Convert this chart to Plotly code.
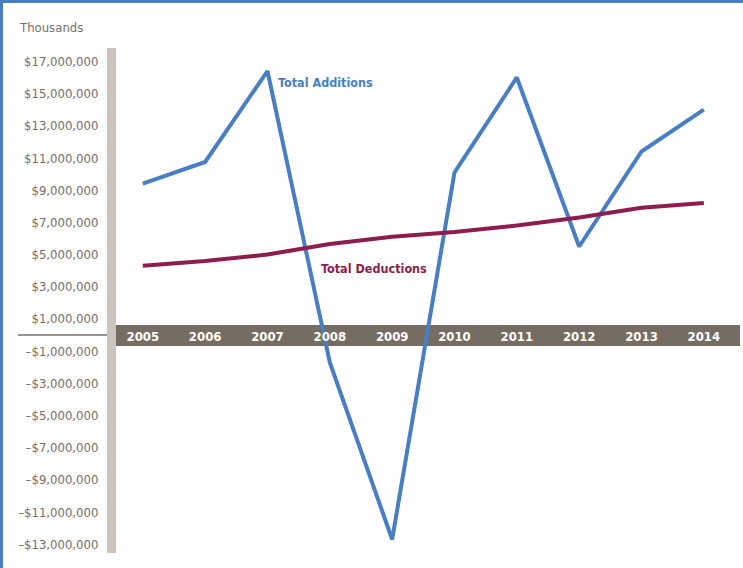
import plotly.graph_objects as go

years = ["2005", "2006", "2007", "2008", "2009", "2010", "2011", "2012", "2013", "2014"]
additions = [9400000, 10750000, 16400000, -1700000, -12700000, 10100000, 16000000, 5500000, 11400000, 14000000]
deductions = [4300000, 4600000, 5000000, 5650000, 6100000, 6400000, 6800000, 7300000, 7900000, 8200000]
ytick_vals = [17e6, 15e6, 13e6, 11e6, 9e6, 7e6, 5e6, 3e6, 1e6, -1e6, -3e6, -5e6, -7e6, -9e6, -11e6, -13e6]
ytick_text = ["$17,000,000", "$15,000,000", "$13,000,000", "$11,000,000", "$9,000,000", "$7,000,000",
              "$5,000,000", "$3,000,000", "$1,000,000", "\u2013$1,000,000", "\u2013$3,000,000",
              "\u2013$5,000,000", "\u2013$7,000,000", "\u2013$9,000,000", "\u2013$11,000,000", "\u2013$13,000,000"]

FONT = "Liberation Sans Narrow, DejaVu Sans Condensed, Arial Narrow, sans-serif"
BLUE = "#4A7EC2"
MAROON = "#8E1C4C"
GRAYTXT = "#776E66"
BAND = "#756D62"
BAR = "#CAC5BF"

W, H = 743, 568
L, R, T, B = 116, 3, 48, 15
pw = W - L - R
ph = H - T - B

fig = go.Figure()
fig.add_trace(go.Scatter(x=years, y=additions, mode="lines", line=dict(color=BLUE, width=4),
                         name="Total Additions", cliponaxis=False))
fig.add_trace(go.Scatter(x=years, y=deductions, mode="lines", line=dict(color=MAROON, width=4),
                         name="Total Deductions", cliponaxis=False))

shapes = [
    dict(type="rect", xref="paper", yref="y", x0=0, x1=1, y0=-680000, y1=620000,
         fillcolor=BAND, line=dict(width=0), layer="below"),
    dict(type="rect", xref="paper", yref="paper", x0=-9 / pw, x1=0, y0=0, y1=1,
         fillcolor=BAR, line=dict(width=0), layer="below"),
    dict(type="line", xref="paper", yref="y", x0=-98 / pw, x1=-9 / pw, y0=0, y1=0,
         line=dict(color=GRAYTXT, width=1.5)),
    dict(type="line", xref="paper", yref="paper", x0=-L / pw, x1=(W - L) / pw,
         y0=(H - B - 1.5) / ph, y1=(H - B - 1.5) / ph,
         line=dict(color=BLUE, width=3)),
    dict(type="line", xref="paper", yref="paper", x0=(-L + 1.5) / pw, x1=(-L + 1.5) / pw,
         y0=-B / ph, y1=(H - B) / ph,
         line=dict(color=BLUE, width=3)),
]

annotations = [
    dict(text="Thousands", xref="paper", yref="paper", x=-99 / pw, y=(H - B - 28) / ph,
         xanchor="left", yanchor="middle", showarrow=False,
         font=dict(family=FONT, size=13, color=GRAYTXT)),
    dict(text="<b>Total Additions</b>", x=2.13, y=15.7e6, xanchor="left", yanchor="middle",
         showarrow=False, font=dict(family=FONT, size=12.5, color=BLUE)),
    dict(text="<b>Total Deductions</b>", x=2.82, y=4.15e6, xanchor="left", yanchor="middle",
         showarrow=False, font=dict(family=FONT, size=12.5, color=MAROON)),
]

fig.update_layout(
    width=W, height=H,
    margin=dict(l=L, r=R, t=T, b=B),
    paper_bgcolor="white", plot_bgcolor="white",
    showlegend=False,
    shapes=shapes, annotations=annotations,
    xaxis=dict(type="category", range=[-0.43, 9.58], showgrid=False, zeroline=False, showline=False,
               ticks="", anchor="free", position=(H - B - 327) / ph,
               tickfont=dict(family=FONT, size=13, color="white", weight="bold")),
    yaxis=dict(range=[-13.54e6, 17.83e6], showgrid=False, zeroline=False, showline=False,
               tickvals=ytick_vals, ticktext=ytick_text, ticks="outside", ticklen=14,
               tickcolor="rgba(0,0,0,0)",
               tickfont=dict(family=FONT, size=13, color=GRAYTXT)),
)

fig.write_html("out.html", config={"displayModeBar": False},
               post_script="document.body.style.margin='0';document.body.style.overflow='hidden';")
